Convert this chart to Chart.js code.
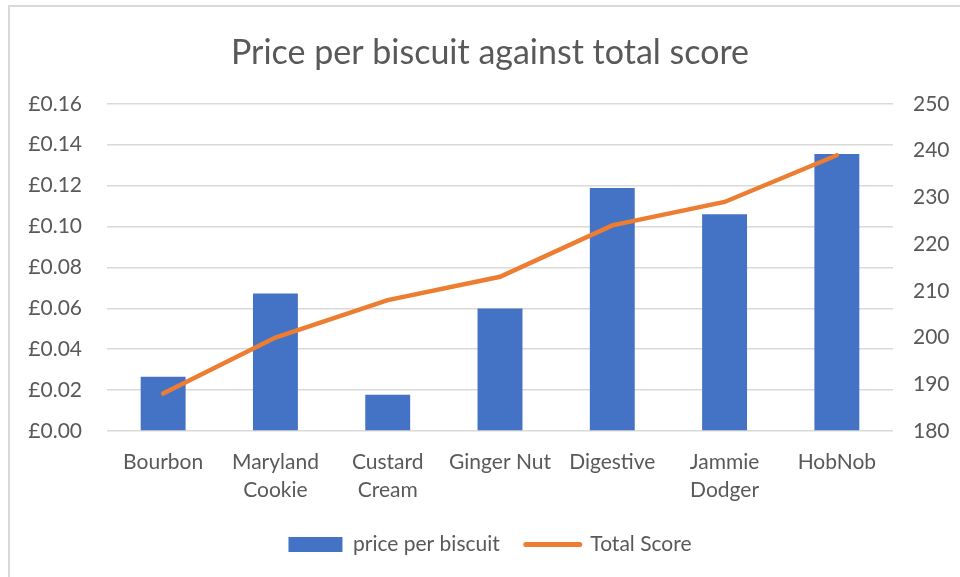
<!DOCTYPE html>
<html>
<head>
<meta charset="utf-8">
<script src="https://cdn.jsdelivr.net/npm/chart.js@4.4.1/dist/chart.umd.min.js"></script>
<style>
  html, body { margin: 0; padding: 0; background: #fff; overflow: hidden; }
  #frame {
    position: absolute; left: 8px; top: 5px; width: 1000px; height: 640px;
    border: 2px solid #d9d9d9; box-sizing: border-box; pointer-events: none;
  }
  #wrap { position: absolute; left: 0; top: 0; width: 960px; height: 577px; overflow: hidden; }
</style>
</head>
<body>
<div id="wrap"><canvas id="chart" width="980" height="577"></canvas></div>
<div id="frame"></div>
<script>
// ---- data ----
const biscuits = [
    'Bourbon', ['Maryland', 'Cookie'], ['Custard', 'Cream'], 'Ginger Nut',
    'Digestive', ['Jammie', 'Dodger'], 'HobNob'
];
const pricePerBiscuit = [0.0265, 0.0672, 0.0177, 0.0599, 0.1188, 0.1060, 0.1355];
const totalScore = [188, 200, 208, 213, 224, 229, 239];

const textColor = '#595959';
const fontFamily = 'Lato, "Open Sans", sans-serif';

Chart.defaults.font.family = fontFamily;
Chart.defaults.color = textColor;

// the frame runs past the right edge of the page, so the canvas is a bit
// wider than the window to keep title and legend centred like the original
const chart = new Chart(document.getElementById('chart'), {
    data: {
        labels: biscuits,
        datasets: [
            {
                type: 'bar',
                label: 'price per biscuit',
                data: pricePerBiscuit,
                backgroundColor: '#4472C4',
                yAxisID: 'price',
                barPercentage: 0.8,
                categoryPercentage: 0.5,
                order: 2
            },
            {
                type: 'line',
                label: 'Total Score',
                data: totalScore,
                borderColor: '#ED7D31',
                backgroundColor: '#ED7D31',
                borderWidth: 4.5,
                borderCapStyle: 'round',
                pointRadius: 0,
                tension: 0,
                yAxisID: 'score',
                order: 1
            }
        ]
    },
    options: {
        responsive: false,
        animation: false,
        layout: { padding: { left: 0, right: 0, top: 0, bottom: 12 } },
        plugins: {
            tooltip: { enabled: false },
            title: {
                display: true,
                text: 'Price per biscuit against total score',
                color: textColor,
                font: { size: 34, weight: 'normal', lineHeight: 1.2 },
                padding: { top: 33, bottom: 30 }
            },
            legend: {
                position: 'bottom',
                labels: {
                    usePointStyle: true,
                    pointStyleWidth: 54,
                    boxHeight: 15,
                    padding: 26,
                    font: { size: 21 },
                    color: textColor,
                    generateLabels: (c) => c.data.datasets.map((ds, i) => ({
                        text: ds.label,
                        fillStyle: ds.type === 'bar' ? ds.backgroundColor : ds.borderColor,
                        strokeStyle: ds.type === 'bar' ? ds.backgroundColor : ds.borderColor,
                        lineWidth: ds.type === 'bar' ? 0 : 5,
                        lineCap: 'round',
                        pointStyle: ds.type === 'bar' ? 'rect' : 'line',
                        fontColor: textColor,
                        datasetIndex: i,
                        hidden: false
                    }))
                }
            }
        },
        scales: {
            x: {
                grid: { display: false },
                border: { display: false },
                ticks: {
                    maxRotation: 0,
                    autoSkip: false,
                    padding: 9,
                    font: { size: 21, lineHeight: 1.35 },
                    color: textColor
                },
                afterFit: (s) => { s.height = 77; }
            },
            price: {
                position: 'left',
                min: 0,
                max: 0.16,
                grid: { color: '#d9d9d9', lineWidth: 1.5, drawTicks: false },
                border: { display: false },
                ticks: {
                    stepSize: 0.02,
                    padding: 25,
                    font: { size: 21 },
                    color: textColor,
                    callback: (v) => '£' + v.toFixed(2)
                },
                afterFit: (s) => { s.width = 107; }
            },
            score: {
                position: 'right',
                min: 180,
                max: 250,
                grid: { display: false, drawTicks: false },
                border: { display: false },
                ticks: {
                    stepSize: 10,
                    padding: 20,
                    font: { size: 21 },
                    color: textColor
                },
                afterFit: (s) => { s.width = 87; }
            }
        }
    }
});
</script>
</body>
</html>
